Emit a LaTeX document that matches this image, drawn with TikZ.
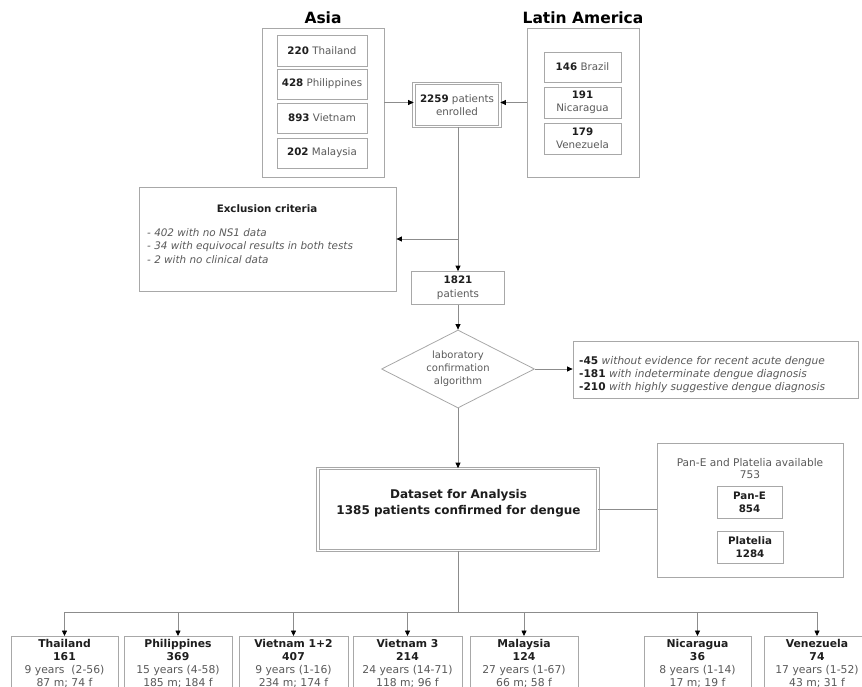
\documentclass[tikz,border=0pt]{standalone}
\usepackage{fontspec}
\setmainfont{DejaVu Sans}
\usetikzlibrary{arrows.meta,shapes.geometric}
\definecolor{boxc}{HTML}{A8A8A8}
\definecolor{linec}{HTML}{8C8C8C}
\definecolor{txtg}{HTML}{5A5A5A}
\definecolor{txtd}{HTML}{1E1E1E}
\newcommand{\dnum}[1]{\textbf{\textcolor{txtd}{#1}}}
\begin{document}
\begin{tikzpicture}[x=1pt,y=-1pt,
  box/.style={draw=boxc,line width=0.8pt,fill=white,inner sep=0pt,align=center,text=txtg},
  dbox/.style={box,double=white,double distance=1.8pt,line width=0.7pt},
  conn/.style={draw=linec,line width=0.8pt},
  arr/.style={conn,-{Triangle[width=5pt,length=5.5pt,color=black]}},
  fn/.style={font=\fontsize{10.3}{12.5}\selectfont},
  ttl/.style={font=\bfseries\fontsize{15.5}{18}\selectfont,text=black},
  botbox/.style={box,anchor=north,minimum height=70pt},
  bottxt/.style={align=center,inner sep=0pt,text=txtg,font=\fontsize{10.8}{13}\selectfont}
]
\clip (0,0) rectangle (862,687);
\useasboundingbox (0,0) rectangle (862,687);

% titles
\node[ttl] (asiaT) at (323,18) {Asia};
\node[ttl] (latT) at (583,18) {Latin America};

% Asia group
\node[box,minimum width=122pt,minimum height=149pt] (asia) at (323,102.5) {};
\node[box,fn,minimum width=90pt,minimum height=31pt] (th) at (322,50.5) {\dnum{220} Thailand};
\node[box,fn,minimum width=90pt,minimum height=30pt] (ph) at (322,84) {\dnum{428} Philippines};
\node[box,fn,minimum width=90pt,minimum height=30pt] (vn) at (322,118) {\dnum{893} Vietnam};
\node[box,fn,minimum width=90pt,minimum height=30pt] (my) at (322,153) {\dnum{202} Malaysia};

% Latin America group
\node[box,minimum width=112pt,minimum height=149pt] (la) at (583,102.5) {};
\node[box,fn,minimum width=77pt,minimum height=30pt] (br) at (582.5,67) {\dnum{146} Brazil};
\node[box,fn,minimum width=77pt,minimum height=31pt] (ni) at (582.5,102.5) {\dnum{191}\\Nicaragua};
\node[box,fn,minimum width=77pt,minimum height=31pt] (ve) at (582.5,138.5) {\dnum{179}\\Venezuela};

% enrolled
\node[dbox,fn,minimum width=86pt,minimum height=43pt] (enr) at (457,105) {\dnum{2259} patients\\enrolled};
\draw[arr] (asia.east) -- (asia.east -| enr.west);
\draw[arr] (la.west) -- (la.west -| enr.east);

% exclusion
\node[box,minimum width=257pt,minimum height=104pt] (excl) at (267.5,239) {};
\node[font=\bfseries\fontsize{10.3}{12.5}\selectfont,text=txtd] (exclT) at (267,209) {Exclusion criteria};
\node[anchor=west,align=left,inner sep=0pt,text=txtg,font=\itshape\fontsize{10.4}{13.5}\selectfont] (exclL) at (147,246)
  {- 402 with no NS1 data\\- 34 with equivocal results in both tests\\- 2 with no clinical data};

% 1821
\node[box,minimum width=93pt,minimum height=33pt,font=\fontsize{10.3}{14}\selectfont] (n1821) at (458,288) {\dnum{1821}\\patients};
\draw[arr] (enr.south -| n1821.north) -- (n1821.north);
\draw[arr] (excl.east -| n1821.north) -- (excl.east);

% diamond
\node[draw=boxc,line width=0.8pt,diamond,minimum width=153pt,minimum height=78pt,inner sep=0pt,aspect=1.96,
  align=center,text=txtg,font=\fontsize{10}{13}\selectfont] (alg) at (458,369) {laboratory\\confirmation\\algorithm};
\draw[arr] (n1821.south) -- (alg.north);

% lab results box
\node[box,minimum width=285pt,minimum height=57pt] (lab) at (715.5,369.5) {};
\node[anchor=west,align=left,inner sep=0pt,text=txtg,font=\fontsize{10.6}{13}\selectfont] (labL) at (579,375)
  {\dnum{-45} \textit{without evidence for recent acute dengue}\\
   \dnum{-181} \textit{with indeterminate dengue diagnosis}\\
   \dnum{-210} \textit{with highly suggestive dengue diagnosis}};
\draw[arr] (alg.east) -- (alg.east -| lab.west);

% dataset
\node[dbox,minimum width=280pt,minimum height=82pt] (ds) at (458,509.5) {};
\node[align=center,text=txtd,font=\bfseries\fontsize{12}{16}\selectfont] (dsT) at (458.5,503) {Dataset for Analysis\\1385 patients confirmed for dengue};
\draw[arr] (alg.south) -- (alg.south |- ds.north);

% Pan-E / Platelia
\node[box,minimum width=186pt,minimum height=134pt] (pan) at (750,510) {};
\node[align=center,text=txtg,font=\fontsize{10.6}{12}\selectfont] (panT) at (750,469) {Pan-E and Platelia available\\753};
\node[box,minimum width=65pt,minimum height=32pt,text=txtd,font=\bfseries\fontsize{10.3}{13}\selectfont] (panE) at (749.5,502) {Pan-E\\854};
\node[box,minimum width=66pt,minimum height=32pt,text=txtd,font=\bfseries\fontsize{10.3}{13}\selectfont] (plat) at (750,547) {Platelia\\1284};
\draw[conn] (ds.east) -- (ds.east -| pan.west);

% bottom boxes
\node[botbox,minimum width=107pt] (bth) at (64.5,636) {};
\node[botbox,minimum width=108pt] (bph) at (178,636) {};
\node[botbox,minimum width=109pt] (bv12) at (293.5,636) {};
\node[botbox,minimum width=109pt] (bv3) at (407.5,636) {};
\node[botbox,minimum width=108pt] (bmy) at (524,636) {};
\node[botbox,minimum width=107pt] (bni) at (697.5,636) {};
\node[botbox,minimum width=106pt] (bve) at (817,636) {};
\node[bottxt,anchor=north] (tth) at ([yshift=-3pt]bth.north) {\dnum{Thailand}\\\dnum{161}\\9 years\ \ (2-56)\\87 m; 74 f};
\node[bottxt,anchor=north] (tph) at ([yshift=-3pt]bph.north) {\dnum{Philippines}\\\dnum{369}\\15 years (4-58)\\185 m; 184 f};
\node[bottxt,anchor=north] (tv12) at ([yshift=-3pt]bv12.north) {\dnum{Vietnam 1+2}\\\dnum{407}\\9 years (1-16)\\234 m; 174 f};
\node[bottxt,anchor=north] (tv3) at ([yshift=-3pt]bv3.north) {\dnum{Vietnam 3}\\\dnum{214}\\24 years (14-71)\\118 m; 96 f};
\node[bottxt,anchor=north] (tmy) at ([yshift=-3pt]bmy.north) {\dnum{Malaysia}\\\dnum{124}\\27 years (1-67)\\66 m; 58 f};
\node[bottxt,anchor=north] (tni) at ([yshift=-3pt]bni.north) {\dnum{Nicaragua}\\\dnum{36}\\8 years (1-14)\\17 m; 19 f};
\node[bottxt,anchor=north] (tve) at ([yshift=-3pt]bve.north) {\dnum{Venezuela}\\\dnum{74}\\17 years (1-52)\\43 m; 31 f};

\coordinate (hub) at (458,612);
\draw[conn] (ds.south) -- (hub);
\draw[conn] (bth.north |- hub) -- (bve.north |- hub);
\foreach \b in {bth,bph,bv12,bv3,bmy,bni,bve}{
  \draw[arr] (\b.north |- hub) -- (\b.north);
}
\end{tikzpicture}
\end{document}
